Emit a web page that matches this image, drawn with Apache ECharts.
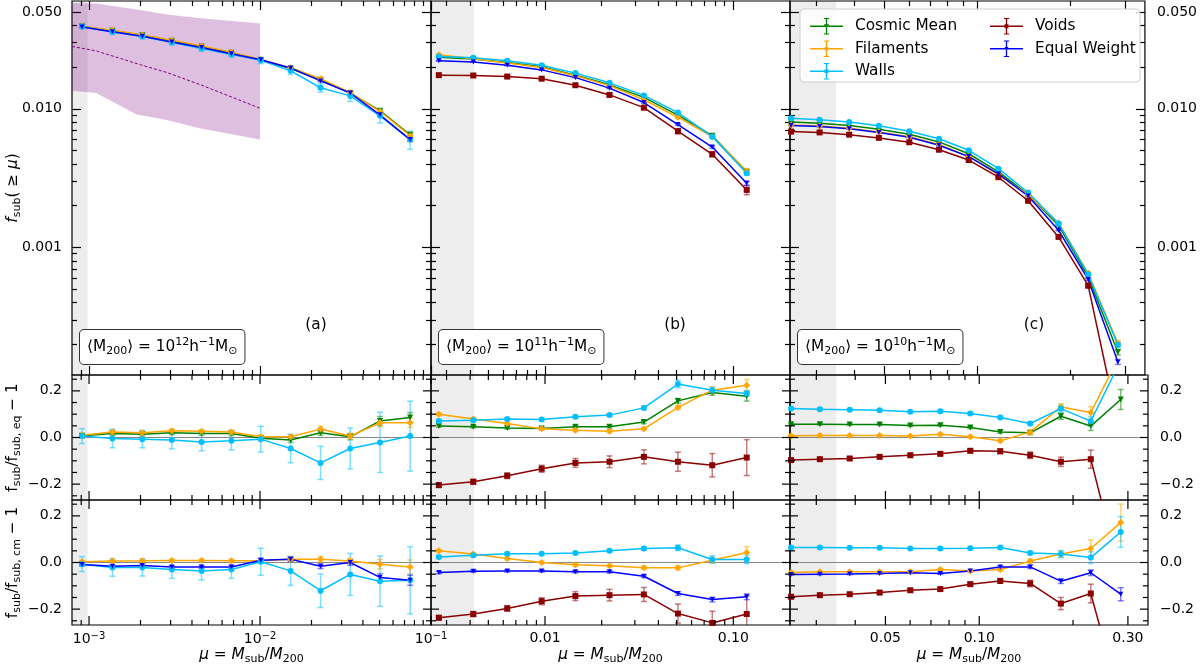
<!DOCTYPE html>
<html><head><meta charset="utf-8">
<script src="https://cdn.jsdelivr.net/npm/echarts@6/dist/echarts.min.js"></script>
<style>html,body{margin:0;padding:0;background:#fff}#c{width:1200px;height:666px}</style>
</head><body><div id="c"></div>
<script>
// ---------------- x values (mu = Msub/M200) ----------------
const muA = [9.1e-4, 1.37e-3, 2.05e-3, 3.05e-3, 4.55e-3, 6.8e-3, 1.01e-2, 1.51e-2, 2.26e-2, 3.37e-2, 5.03e-2, 7.55e-2];
const muB = [2.73e-3, 4.16e-3, 6.30e-3, 9.60e-3, 1.45e-2, 2.20e-2, 3.35e-2, 5.08e-2, 7.73e-2, 0.1178];
const muC = [0.0249, 0.0308, 0.0384, 0.0479, 0.0601, 0.0750, 0.0936, 0.1168, 0.1457, 0.1828, 0.228, 0.2845];

// ---------------- top row: f_sub(>= mu) ----------------
const fA_cm  = [0.0393, 0.0366, 0.0339, 0.0310, 0.0282, 0.0254, 0.0225, 0.0195, 0.0162, 0.0130, 0.0097, 0.0065];
const fA_fil = [0.0394, 0.0369, 0.0341, 0.0313, 0.0284, 0.0256, 0.0227, 0.0198, 0.0165, 0.0131, 0.0096, 0.0064];
const fA_wal = [0.0392, 0.0359, 0.0332, 0.0301, 0.0272, 0.0247, 0.0224, 0.0188, 0.0142, 0.0124, 0.0089, 0.0060];
const fA_eq  = [0.0390, 0.0360, 0.0334, 0.0304, 0.0277, 0.0250, 0.0226, 0.0197, 0.0159, 0.0130, 0.00905, 0.0060];
const eA_cm  = [0.0003, 0.0003, 0.0003, 0.0003, 0.0002, 0.0002, 0.0002, 0.0002, 0.0002, 0.0002, 0.0002, 0.0002];
const eA_fil = [0.0003, 0.0003, 0.0003, 0.0002, 0.0002, 0.0002, 0.0002, 0.0002, 0.0002, 0.0002, 0.0002, 0.0002];
const eA_wal = [0.0013, 0.0014, 0.0012, 0.0012, 0.0011, 0.0010, 0.0012, 0.0011, 0.0010, 0.0011, 0.0010, 0.0009];
const eA_eq  = [0.0002, 0.0002, 0.0002, 0.0002, 0.0002, 0.0002, 0.0002, 0.0002, 0.0002, 0.0002, 0.0002, 0.0002];

const fB_cm  = [0.0236, 0.0229, 0.0216, 0.0201, 0.0175, 0.0149, 0.0121, 0.0090, 0.0064, 0.00352];
const fB_fil = [0.0246, 0.0230, 0.0214, 0.0199, 0.0173, 0.0147, 0.0116, 0.0087, 0.0063, 0.00356];
const fB_wal = [0.0239, 0.0234, 0.0222, 0.0206, 0.0181, 0.0154, 0.0125, 0.0094, 0.0063, 0.00343];
const fB_voi = [0.0175, 0.0174, 0.0171, 0.0165, 0.0148, 0.0126, 0.0102, 0.0069, 0.0047, 0.0026];
const fB_eq  = [0.0222, 0.0218, 0.0206, 0.0191, 0.0168, 0.0141, 0.0111, 0.0077, 0.0053, 0.0029];
const eB_cm  = [0.0001, 0.0001, 0.0001, 0.0001, 0.0001, 0.0001, 0.0001, 0.0001, 0.0001, 0.0001];
const eB_fil = [0.0002, 0.0002, 0.0001, 0.0001, 0.0001, 0.0001, 0.0001, 0.0001, 0.0001, 0.0001];
const eB_wal = [0.0001, 0.0001, 0.0001, 0.0001, 0.0001, 0.0001, 0.0001, 0.0001, 0.0001, 0.0001];
const eB_voi = [0.0002, 0.0002, 0.0002, 0.0002, 0.0003, 0.0003, 0.0003, 0.0003, 0.0002, 0.0002];
const eB_eq  = [0.0001, 0.0001, 0.0001, 0.0001, 0.0001, 0.0001, 0.0001, 0.0001, 0.0001, 0.0001];

const fC_cm  = [0.00805, 0.00787, 0.00757, 0.00713, 0.00656, 0.00577, 0.00474, 0.00351, 0.00241, 0.00144, 0.000615, 0.000175];
const fC_fil = [0.00763, 0.00752, 0.00723, 0.00681, 0.00628, 0.00554, 0.00453, 0.00334, 0.00240, 0.00150, 0.000650, 0.000203];
const fC_wal = [0.00854, 0.00834, 0.00802, 0.00754, 0.00690, 0.00608, 0.00502, 0.00370, 0.00249, 0.00149, 0.000640, 0.000198];
const fC_voi = [0.00685, 0.00676, 0.00651, 0.00617, 0.00574, 0.00507, 0.00427, 0.00321, 0.00217, 0.00119, 0.000530, 0.000053];
const fC_eq  = [0.00758, 0.00745, 0.00717, 0.00675, 0.00624, 0.00546, 0.00452, 0.00339, 0.00235, 0.00133, 0.000587, 0.000149];
const eC_cm  = [0.00004, 0.00004, 0.00004, 0.00004, 0.00004, 0.00003, 0.00003, 0.00003, 0.00002, 0.00002, 0.00001, 0.000008];
const eC_fil = [0.00004, 0.00004, 0.00004, 0.00004, 0.00004, 0.00003, 0.00003, 0.00003, 0.00002, 0.00002, 0.00002, 0.000010];
const eC_wal = [0.00004, 0.00004, 0.00004, 0.00004, 0.00004, 0.00003, 0.00003, 0.00003, 0.00002, 0.00002, 0.00001, 0.000008];
const eC_voi = [0.00004, 0.00004, 0.00004, 0.00004, 0.00004, 0.00004, 0.00003, 0.00003, 0.00003, 0.00002, 0.00002, 0.000010];
const eC_eq  = [0.00003, 0.00003, 0.00003, 0.00003, 0.00003, 0.00003, 0.00002, 0.00002, 0.00002, 0.00001, 0.00001, 0.000006];

// ---------------- middle row: f_sub / f_sub,eq - 1 ----------------
const qA_cm  = [0.007, 0.017, 0.014, 0.020, 0.017, 0.017, -0.003, -0.011, 0.020, 0.003, 0.071, 0.086];
const qA_fil = [0.010, 0.024, 0.020, 0.029, 0.027, 0.024, 0.003, 0.003, 0.036, 0.006, 0.063, 0.063];
const qA_wal = [0.006, -0.004, -0.007, -0.011, -0.019, -0.014, -0.007, -0.047, -0.109, -0.047, -0.021, 0.006];
const dqA_cm  = [0.008, 0.008, 0.008, 0.008, 0.008, 0.009, 0.009, 0.010, 0.011, 0.013, 0.019, 0.021];
const dqA_fil = [0.008, 0.007, 0.007, 0.007, 0.007, 0.008, 0.008, 0.009, 0.012, 0.013, 0.018, 0.020];
const dqA_wal = [0.032, 0.040, 0.037, 0.038, 0.038, 0.039, 0.055, 0.061, 0.071, 0.088, 0.129, 0.150];

const qB_cm  = [0.049, 0.046, 0.041, 0.039, 0.046, 0.046, 0.066, 0.157, 0.193, 0.177];
const qB_fil = [0.100, 0.079, 0.060, 0.037, 0.031, 0.027, 0.037, 0.129, 0.203, 0.224];
const qB_wal = [0.071, 0.074, 0.079, 0.077, 0.089, 0.096, 0.127, 0.229, 0.203, 0.189];
const qB_voi = [-0.204, -0.190, -0.164, -0.134, -0.109, -0.104, -0.083, -0.104, -0.119, -0.086];
const dqB_cm  = [0.005, 0.005, 0.005, 0.005, 0.005, 0.006, 0.007, 0.010, 0.012, 0.021];
const dqB_fil = [0.006, 0.006, 0.006, 0.006, 0.006, 0.006, 0.007, 0.009, 0.015, 0.025];
const dqB_wal = [0.006, 0.006, 0.006, 0.006, 0.006, 0.006, 0.008, 0.016, 0.012, 0.012];
const dqB_voi = [0.010, 0.011, 0.012, 0.015, 0.019, 0.025, 0.030, 0.041, 0.050, 0.077];

const qC_cm  = [0.057, 0.057, 0.056, 0.056, 0.051, 0.053, 0.043, 0.024, 0.020, 0.091, 0.049, 0.163];
const qC_fil = [0.007, 0.009, 0.009, 0.009, 0.006, 0.014, 0.003, -0.014, 0.023, 0.131, 0.107, 0.36];
const qC_wal = [0.124, 0.121, 0.119, 0.117, 0.110, 0.113, 0.103, 0.086, 0.060, 0.124, 0.070, 0.33];
const qC_voi = [-0.097, -0.093, -0.090, -0.083, -0.076, -0.070, -0.057, -0.059, -0.076, -0.104, -0.093, -0.6];
const dqC_cm  = [0.004, 0.004, 0.004, 0.004, 0.004, 0.004, 0.005, 0.006, 0.008, 0.013, 0.019, 0.043];
const dqC_fil = [0.004, 0.004, 0.004, 0.004, 0.004, 0.005, 0.005, 0.006, 0.008, 0.014, 0.025, 0.040];
const dqC_wal = [0.004, 0.004, 0.004, 0.004, 0.004, 0.005, 0.005, 0.006, 0.008, 0.015, 0.020, 0.030];
const dqC_voi = [0.005, 0.005, 0.005, 0.006, 0.006, 0.007, 0.008, 0.010, 0.014, 0.020, 0.039, 0.050];

// ---------------- bottom row: f_sub / f_sub,cm - 1 ----------------
const pA_fil = [0.003, 0.006, 0.007, 0.009, 0.009, 0.007, 0.007, 0.014, 0.014, 0.006, -0.007, -0.019];
const pA_wal = [-0.007, -0.021, -0.021, -0.030, -0.036, -0.030, 0.003, -0.036, -0.121, -0.051, -0.080, -0.076];
const pA_eq  = [-0.009, -0.016, -0.013, -0.019, -0.019, -0.019, 0.010, 0.014, -0.016, 0.000, -0.064, -0.076];
const dpA_fil = [0.007, 0.006, 0.006, 0.006, 0.006, 0.007, 0.008, 0.009, 0.012, 0.012, 0.020, 0.030];
const dpA_wal = [0.032, 0.038, 0.037, 0.038, 0.038, 0.038, 0.058, 0.062, 0.072, 0.090, 0.108, 0.144];
const dpA_eq  = [0.006, 0.006, 0.006, 0.006, 0.006, 0.007, 0.008, 0.009, 0.010, 0.012, 0.015, 0.022];

const pB_fil = [0.050, 0.036, 0.017, 0.000, -0.010, -0.014, -0.023, -0.023, 0.010, 0.043];
const pB_wal = [0.024, 0.031, 0.037, 0.037, 0.041, 0.050, 0.060, 0.063, 0.013, 0.013];
const pB_voi = [-0.237, -0.221, -0.197, -0.166, -0.144, -0.140, -0.137, -0.219, -0.259, -0.221];
const pB_eq  = [-0.043, -0.037, -0.036, -0.036, -0.040, -0.040, -0.059, -0.133, -0.159, -0.147];
const dpB_fil = [0.006, 0.006, 0.006, 0.006, 0.006, 0.006, 0.007, 0.009, 0.012, 0.025];
const dpB_wal = [0.006, 0.006, 0.006, 0.006, 0.006, 0.006, 0.008, 0.012, 0.016, 0.018];
const dpB_voi = [0.010, 0.011, 0.012, 0.015, 0.019, 0.025, 0.030, 0.041, 0.050, 0.077];
const dpB_eq  = [0.005, 0.005, 0.005, 0.005, 0.005, 0.005, 0.006, 0.008, 0.010, 0.012];

const pC_fil = [-0.043, -0.040, -0.040, -0.040, -0.040, -0.030, -0.036, -0.030, 0.006, 0.036, 0.060, 0.171];
const pC_wal = [0.064, 0.064, 0.063, 0.063, 0.060, 0.060, 0.061, 0.064, 0.041, 0.036, 0.021, 0.131];
const pC_voi = [-0.147, -0.140, -0.136, -0.129, -0.119, -0.114, -0.093, -0.079, -0.090, -0.176, -0.133, -0.6];
const pC_eq  = [-0.051, -0.050, -0.049, -0.047, -0.044, -0.047, -0.036, -0.019, -0.019, -0.080, -0.044, -0.136];
const dpC_fil = [0.004, 0.004, 0.004, 0.004, 0.004, 0.005, 0.005, 0.006, 0.008, 0.014, 0.037, 0.080];
const dpC_wal = [0.004, 0.004, 0.004, 0.004, 0.004, 0.005, 0.005, 0.006, 0.008, 0.015, 0.025, 0.066];
const dpC_voi = [0.005, 0.005, 0.005, 0.006, 0.006, 0.007, 0.008, 0.010, 0.014, 0.026, 0.040, 0.050];
const dpC_eq  = [0.003, 0.003, 0.003, 0.003, 0.003, 0.004, 0.004, 0.005, 0.007, 0.010, 0.012, 0.028];

// ---------------- reference band (panel a) ----------------
const bandMu = [7.95e-4, 1.1e-3, 1.9e-3, 2.85e-3, 4.5e-3, 1.0e-2];
const bandHi = [0.058, 0.0575, 0.0520, 0.0480, 0.0450, 0.0412];
const bandLo = [0.0135, 0.0130, 0.0091, 0.0083, 0.0072, 0.0060];
const dashMu = [7.95e-4, 1.1e-3, 2.0e-3, 2.85e-3, 4.5e-3, 1.0e-2];
const dashF  = [0.0282, 0.0262, 0.0208, 0.0183, 0.0149, 0.0101];

// resolution limits (grey shading)
const resLimit = [0.00098, 0.0042, 0.0348];

// ---------------- axis ranges and ticks ----------------
const XR = [[7.95e-4, 0.1], [0.00248, 0.2], [0.0247, 0.348]];
const YR_TOP = [1.2e-4, 0.06];
const YR_RAT = [-0.268, 0.268];
const XMAJ = [[0.001, 0.01, 0.1], [0.01, 0.1], [0.05, 0.1, 0.3]];
const XMIN = [
  [9e-4, 0.002, 0.003, 0.004, 0.005, 0.006, 0.007, 0.008, 0.009, 0.02, 0.03, 0.04, 0.05, 0.06, 0.07, 0.08, 0.09],
  [0.003, 0.004, 0.005, 0.006, 0.007, 0.008, 0.009, 0.02, 0.03, 0.04, 0.05, 0.06, 0.07, 0.08, 0.09],
  [0.03, 0.04, 0.06, 0.07, 0.08, 0.09, 0.2]
];
const YT_MAJ = [0.001, 0.01, 0.05];
const YT_MIN = [2e-4, 3e-4, 4e-4, 5e-4, 6e-4, 7e-4, 8e-4, 9e-4, 0.002, 0.003, 0.004, 0.005, 0.006, 0.007, 0.008, 0.009, 0.02, 0.03, 0.04];
const YQ_MAJ = [-0.2, 0, 0.2];
const YQ_MIN = [-0.25, -0.15, -0.1, -0.05, 0.05, 0.1, 0.15, 0.25];
const panelTag = ['(a)', '(b)', '(c)'];
const massExp = ['12', '11', '10'];

// ---------------- styles / layout ----------------
const FONT = 'DejaVu Sans';
const STY = {
  'Cosmic Mean':  {color: '#008000', symbol: 'triangle', rot: 180, size: 6},
  'Filaments':    {color: '#ffa500', symbol: 'diamond', rot: 0, size: 7},
  'Walls':        {color: '#00bfff', symbol: 'circle', rot: 0, size: 6},
  'Voids':        {color: '#8b0000', symbol: 'rect', rot: 0, size: 6},
  'Equal Weight': {color: '#0000ff', symbol: 'triangle', rot: 180, size: 5}
};
const COL_LEFT = [72, 431, 790], COL_W = [359, 359, 358];
const ROW_TOP = [1, 375, 500], ROW_H = [374, 125, 125];

const PANELS = [
  {row:0, col:0, mu:muA, s:[['Cosmic Mean',fA_cm,eA_cm],['Filaments',fA_fil,eA_fil],['Walls',fA_wal,eA_wal],['Equal Weight',fA_eq,eA_eq]]},
  {row:0, col:1, mu:muB, s:[['Cosmic Mean',fB_cm,eB_cm],['Filaments',fB_fil,eB_fil],['Walls',fB_wal,eB_wal],['Voids',fB_voi,eB_voi],['Equal Weight',fB_eq,eB_eq]]},
  {row:0, col:2, mu:muC, s:[['Cosmic Mean',fC_cm,eC_cm],['Filaments',fC_fil,eC_fil],['Walls',fC_wal,eC_wal],['Voids',fC_voi,eC_voi],['Equal Weight',fC_eq,eC_eq]]},
  {row:1, col:0, mu:muA, s:[['Cosmic Mean',qA_cm,dqA_cm],['Filaments',qA_fil,dqA_fil],['Walls',qA_wal,dqA_wal]]},
  {row:1, col:1, mu:muB, s:[['Cosmic Mean',qB_cm,dqB_cm],['Filaments',qB_fil,dqB_fil],['Walls',qB_wal,dqB_wal],['Voids',qB_voi,dqB_voi]]},
  {row:1, col:2, mu:muC, s:[['Cosmic Mean',qC_cm,dqC_cm],['Filaments',qC_fil,dqC_fil],['Walls',qC_wal,dqC_wal],['Voids',qC_voi,dqC_voi]]},
  {row:2, col:0, mu:muA, s:[['Filaments',pA_fil,dpA_fil],['Walls',pA_wal,dpA_wal],['Equal Weight',pA_eq,dpA_eq]]},
  {row:2, col:1, mu:muB, s:[['Filaments',pB_fil,dpB_fil],['Walls',pB_wal,dpB_wal],['Voids',pB_voi,dpB_voi],['Equal Weight',pB_eq,dpB_eq]]},
  {row:2, col:2, mu:muC, s:[['Filaments',pC_fil,dpC_fil],['Walls',pC_wal,dpC_wal],['Voids',pC_voi,dpC_voi],['Equal Weight',pC_eq,dpC_eq]]}
];

const supRich = {p: {fontSize: 10, fontFamily: FONT, color: '#000', verticalAlign: 'top', padding: [0, 0, 7, 0]}};
const nameRich = {
  i: {fontStyle: 'italic', fontSize: 15.3, fontFamily: FONT, color: '#000'},
  s: {fontSize: 11, fontFamily: FONT, color: '#000', verticalAlign: 'bottom', padding: [9, 0, 0, 0]}
};
const nameStyle = {fontSize: 15.3, fontFamily: FONT, color: '#000', rich: nameRich};
const XFMT = [
  v => '10{p|\u2212' + Math.abs(Math.round(Math.log10(v))) + '}',
  v => v.toFixed(2),
  v => v.toFixed(2)
];
const fmtTop = v => v.toFixed(3);
const fmtRat = v => (v < -1e-9 ? '\u2212' : '') + Math.abs(v).toFixed(1);
const Y_NAMES = ['{i|f}{s|sub}( \u2265 {i|\u03bc})', 'f{s|sub}/f{s|sub, eq} \u2212 1', 'f{s|sub}/f{s|sub, cm} \u2212 1'];
const X_NAME = '{i|\u03bc} = {i|M}{s|sub}/{i|M}{s|200}';

const grids = [], xAxes = [], yAxes = [], series = [];
const tickLine = {color: '#000', width: 1.2};

for (const P of PANELS) {
  const r = P.row, c = P.col, g = r * 3 + c;
  const isLog = r === 0;
  grids.push({left: COL_LEFT[c], top: ROW_TOP[r], width: COL_W[c], height: ROW_H[r],
    show: true, borderColor: '#000', borderWidth: 1.2, backgroundColor: 'transparent'});
  const mkX = (pos, ticks, len, lab) => {
    const a = {type: 'log', logBase: 10, gridIndex: g, min: XR[c][0], max: XR[c][1], position: pos,
      axisLine: {show: false, onZero: false}, splitLine: {show: false},
      axisTick: {show: isLog, inside: true, length: len, customValues: ticks, lineStyle: tickLine},
      axisLabel: {show: false}};
    if (lab) {
      a.axisLabel = {show: true, customValues: XMAJ[c], formatter: XFMT[c], margin: 6, fontSize: 14,
        fontFamily: FONT, color: '#000', rich: supRich, showMinLabel: true, showMaxLabel: true, hideOverlap: false};
      a.name = X_NAME; a.nameLocation = 'middle'; a.nameGap = 20; a.nameTextStyle = nameStyle;
      a.nameMoveOverlap = false;
    }
    return a;
  };
  xAxes.push(mkX('bottom', XMAJ[c], 9, r === 2), mkX('bottom', XMIN[c], 5, false),
             mkX('top', XMAJ[c], 9, false), mkX('top', XMIN[c], 5, false));
  const mkY = (pos, ticks, len, lab, withName) => {
    const a = {type: isLog ? 'log' : 'value', gridIndex: g, min: isLog ? YR_TOP[0] : YR_RAT[0],
      max: isLog ? YR_TOP[1] : YR_RAT[1], position: pos,
      axisLine: {show: false, onZero: false}, splitLine: {show: false},
      axisTick: {show: isLog, inside: true, length: len, customValues: ticks, lineStyle: tickLine},
      axisLabel: {show: false}};
    if (isLog) a.logBase = 10;
    if (lab) {
      a.axisLabel = {show: true, customValues: isLog ? YT_MAJ : YQ_MAJ, formatter: isLog ? fmtTop : fmtRat,
        margin: pos === 'left' ? 10 : 12, fontSize: 14, fontFamily: FONT, color: '#000',
        showMinLabel: true, showMaxLabel: true, hideOverlap: false};
    }
    if (withName) {
      a.name = Y_NAMES[r]; a.nameLocation = 'middle'; a.nameGap = 49; a.nameRotate = 90; a.nameTextStyle = nameStyle;
      a.nameMoveOverlap = false;
    }
    return a;
  };
  const maj = isLog ? YT_MAJ : YQ_MAJ, mnr = isLog ? YT_MIN : YQ_MIN;
  yAxes.push(mkY('left', maj, 9, c === 0, c === 0), mkY('left', mnr, 5, false, false),
             mkY('right', maj, 9, c === 2, false), mkY('right', mnr, 5, false, false));

  const ax = {xAxisIndex: 4 * g, yAxisIndex: 4 * g};
  // grey resolution band
  series.push(Object.assign({type: 'custom', silent: true, z: -1, animation: false,
    data: [[resLimit[c], isLog ? 0.01 : 0]],
    renderItem: (params, api) => {
      const cs = params.coordSys;
      const xe = api.coord([api.value(0), api.value(1)])[0];
      return {type: 'rect', shape: {x: cs.x, y: cs.y, width: Math.max(0, xe - cs.x), height: cs.height},
        style: {fill: '#ededed'}};
    }}, ax));
  if (!isLog) {
    // zero reference line
    series.push(Object.assign({type: 'line', silent: true, z: 1, animation: false, symbol: 'none',
      data: [[XR[c][0], 0], [XR[c][1], 0]], lineStyle: {color: '#888888', width: 1}}, ax));
    // tick marks on all four sides (drawn through the axes' scales)
    series.push(Object.assign({type: 'custom', silent: true, z: 4, animation: false,
      data: [[XR[c][0], 0]],
      renderItem: (params, api) => {
        const cs = params.coordSys, ch = [];
        const L = cs.x, R = cs.x + cs.width, T = cs.y, B = cs.y + cs.height;
        const st = {stroke: '#000', lineWidth: 1.2};
        const addX = (vals, len) => vals.forEach(v => {
          const px = api.coord([v, 0])[0];
          if (px < L - 0.5 || px > R + 0.5) return;
          ch.push({type: 'line', shape: {x1: px, y1: B, x2: px, y2: B - len}, style: st});
          ch.push({type: 'line', shape: {x1: px, y1: T, x2: px, y2: T + len}, style: st});
        });
        const addY = (vals, len) => vals.forEach(v => {
          const py = api.coord([XR[c][0], v])[1];
          if (py < T - 0.5 || py > B + 0.5) return;
          ch.push({type: 'line', shape: {x1: L, y1: py, x2: L + len, y2: py}, style: st});
          ch.push({type: 'line', shape: {x1: R, y1: py, x2: R - len, y2: py}, style: st});
        });
        addX(XMAJ[c], 9); addX(XMIN[c], 5); addY(YQ_MAJ, 8); addY(YQ_MIN, 5);
        return {type: 'group', children: ch};
      }}, ax));
  }
  if (g === 0) {
    series.push(Object.assign({type: 'custom', silent: true, z: 1, animation: false,
      data: [[bandMu[0], bandLo[0]]],
      renderItem: (params, api) => {
        const pts = [];
        for (let i = 0; i < bandMu.length; i++) pts.push(api.coord([bandMu[i], bandHi[i]]));
        for (let i = bandMu.length - 1; i >= 0; i--) pts.push(api.coord([bandMu[i], bandLo[i]]));
        return {type: 'polygon', shape: {points: pts}, style: {fill: 'rgba(128,0,128,0.25)'}};
      }}, ax));
    series.push(Object.assign({type: 'line', silent: true, z: 1.5, animation: false, symbol: 'none',
      data: dashMu.map((m, i) => [m, dashF[i]]), lineStyle: {color: '#800080', width: 1, type: [3, 2]}}, ax));
  }
  for (const [name, ys, es] of P.s) {
    const st = STY[name];
    series.push(Object.assign({type: 'custom', name, silent: true, z: 2, animation: false,
      data: P.mu.map((m, i) => [m, ys[i], es[i]]),
      renderItem: (params, api) => {
        const x = api.value(0), y = api.value(1), e = api.value(2);
        const cs = params.coordSys, top = cs.y, bot = cs.y + cs.height;
        const lo = isLog ? Math.max(y - e, y * 0.3) : y - e;
        const p1 = api.coord([x, y + e]), p2 = api.coord([x, lo]);
        const cx = p1[0];
        if (cx < cs.x - 1 || cx > cs.x + cs.width + 1) return null;
        const yT = p1[1], yB = p2[1];
        if (yB < top || yT > bot) return null;
        const sty = {stroke: st.color, lineWidth: 1.5, opacity: 0.5};
        const ch = [{type: 'line', shape: {x1: cx, y1: Math.max(yT, top), x2: cx, y2: Math.min(yB, bot)}, style: sty}];
        if (yT >= top) ch.push({type: 'line', shape: {x1: cx - 3, y1: yT, x2: cx + 3, y2: yT}, style: sty});
        if (yB <= bot) ch.push({type: 'line', shape: {x1: cx - 3, y1: yB, x2: cx + 3, y2: yB}, style: sty});
        return {type: 'group', children: ch};
      }}, ax));
    series.push(Object.assign({type: 'line', name, z: 3, animation: false, clip: true,
      data: P.mu.map((m, i) => [m, ys[i]]),
      symbol: st.symbol, symbolSize: st.size, symbolRotate: st.rot, showSymbol: true,
      lineStyle: {color: st.color, width: 1.5}, itemStyle: {color: st.color}}, ax));
  }
}

// ---------------- legend icons ----------------
const ICON_BASE = 'M0 22.5H100V27.5H0Z M48 3H52V47H48Z M42 0H58V3H42Z M42 47H58V50H42Z M120.8 24.9H121V25.1H120.8Z';
const ICON_MARK = {
  'Cosmic Mean': ' M42 19H58L50 32Z',
  'Filaments': ' M50 16L58 25L50 34L42 25Z',
  'Walls': ' M43 25A7 7 0 1 1 57 25A7 7 0 1 1 43 25Z',
  'Voids': ' M44 19H56V31H44Z',
  'Equal Weight': ' M44 20H56L50 30Z'
};
const legItem = n => ({name: n, icon: 'path://' + ICON_BASE + ICON_MARK[n], itemStyle: {color: STY[n].color}});
const legCommon = {orient: 'vertical', itemGap: 6, itemWidth: 40, itemHeight: 16.5, selectedMode: false, z: 6,
  textStyle: {fontSize: 15.3, fontFamily: FONT, color: '#000'}};

// ---------------- graphics: annotation boxes, panel tags ----------------
const annRich = {
  b: {fontSize: 11, fontFamily: FONT, color: '#000', verticalAlign: 'bottom', padding: [9, 0, 0, 0]},
  t: {fontSize: 11, fontFamily: FONT, color: '#000', verticalAlign: 'top', padding: [0, 0, 8, 0]}
};
const graphics = [{type: 'rect', z: 5, x: 800, y: 9, shape: {width: 340, height: 73, r: 4},
  style: {fill: 'rgba(255,255,255,0.8)', stroke: '#d0d0d0', lineWidth: 1}}];
for (let c = 0; c < 3; c++) {
  graphics.push({type: 'text', z: 5, x: COL_LEFT[c] + 8, y: 330,
    style: {text: '\u27e8M{b|200}\u27e9 = 10{t|' + massExp[c] + '}h{t|\u22121}M{b|\u2299}', rich: annRich,
      fontSize: 15.3, fontFamily: FONT, fill: '#000', backgroundColor: '#fff', borderColor: '#333', borderWidth: 1,
      borderRadius: 4, padding: [7, 7, 7, 7]}});
  graphics.push({type: 'text', z: 5, x: COL_LEFT[c] + 244, y: 325,
    style: {text: panelTag[c], fontSize: 15.3, fontFamily: FONT, fill: '#000', align: 'center', verticalAlign: 'middle'}});
}

const chart = echarts.init(document.getElementById('c'));
chart.setOption({
  animation: false,
  backgroundColor: '#fff',
  textStyle: {fontFamily: FONT},
  grid: grids, xAxis: xAxes, yAxis: yAxes, series: series,
  legend: [
    Object.assign({left: 805, top: 13, data: ['Cosmic Mean', 'Filaments', 'Walls'].map(legItem)}, legCommon),
    Object.assign({left: 985, top: 13, data: ['Voids', 'Equal Weight'].map(legItem)}, legCommon)
  ],
  graphic: graphics
});
</script></body></html>
